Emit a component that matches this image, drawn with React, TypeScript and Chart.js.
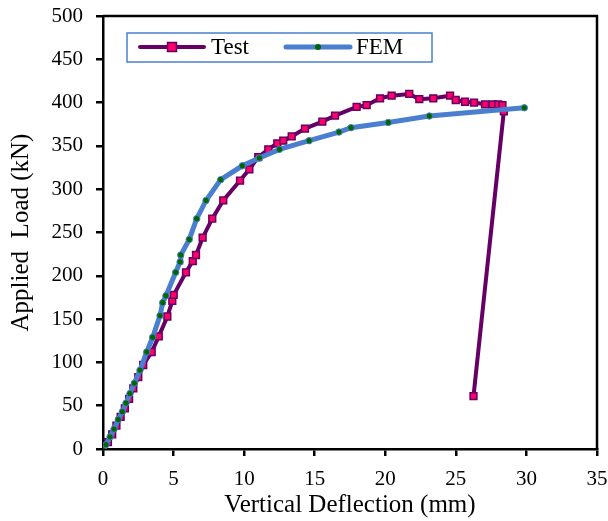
import React, { useEffect, useRef } from "react";
import { Chart, registerables } from "chart.js";

Chart.register(...registerables);

const testX = [0, 0.35, 0.65, 0.95, 1.25, 1.55, 1.85, 2.15, 2.5, 2.85, 3.45, 3.95, 4.56, 4.91, 5.01, 5.88, 6.36, 6.59, 7.06, 7.74, 8.52, 9.71, 10.37, 11.0, 11.71, 12.35, 12.77, 13.37, 14.31, 15.54, 16.44, 17.97, 18.68, 19.63, 20.45, 21.7, 22.41, 23.4, 24.59, 24.99, 25.65, 26.29, 27.07, 27.6, 28.0, 28.3, 28.4, 26.25];
const testY = [0, 8, 17, 27, 37, 47, 58, 70, 83, 97, 112, 130, 153, 171, 178, 204, 217, 224, 244, 266, 287, 310, 323, 337, 346, 353, 356, 361, 370, 378, 385, 395, 397, 405, 408, 410, 404, 405, 408, 403, 401, 400, 398, 398, 398, 397, 390, 61];

const femX = [0, 0.21, 0.5, 0.78, 1.08, 1.37, 1.63, 1.91, 2.22, 2.62, 3.1, 3.52, 4.04, 4.23, 4.46, 5.15, 5.46, 5.51, 6.11, 6.64, 7.3, 8.34, 9.87, 11.07, 12.5, 14.6, 16.72, 17.57, 20.21, 23.12, 29.85];
const femY = [0, 5, 14, 23, 34, 43, 53, 64, 76, 91, 112, 129, 154, 169, 177, 204, 216, 224, 242, 266, 287, 311, 327, 336, 346, 356, 366, 371, 377, 384.5, 394];

const seriesNames = ["Test", "FEM"];
const xTitle = "Vertical Deflection (mm)";
const yTitle = "Applied  Load (kN)";

const TEST_LINE = "#660066";
const TEST_FILL = "#ff0066";
const FEM_LINE = "#4a7fd0";
const FEM_FILL = "#006600";
const FONT = "'Liberation Serif', 'Times New Roman', serif";

const framePlugin = {
  id: "frameAndLegend",
  afterDraw(chart: any) {
    const { ctx, chartArea } = chart;
    ctx.save();
    ctx.strokeStyle = "#000";
    ctx.lineWidth = 2.5;
    ctx.beginPath();
    ctx.moveTo(chartArea.left, chartArea.top);
    ctx.lineTo(chartArea.right, chartArea.top);
    ctx.lineTo(chartArea.right, chartArea.bottom);
    ctx.stroke();

    // legend box
    ctx.strokeStyle = FEM_LINE;
    ctx.lineWidth = 1.5;
    ctx.fillStyle = "#fff";
    ctx.fillRect(127, 33, 305, 29);
    ctx.strokeRect(127, 33, 305, 29);
    const ly = 47;
    // Test
    ctx.strokeStyle = TEST_LINE;
    ctx.lineWidth = 4;
    ctx.lineCap = "round";
    ctx.beginPath();
    ctx.moveTo(140, ly);
    ctx.lineTo(204, ly);
    ctx.stroke();
    ctx.fillStyle = TEST_FILL;
    ctx.lineWidth = 1.5;
    ctx.fillRect(167.5, ly - 4.5, 9, 9);
    ctx.strokeRect(167.5, ly - 4.5, 9, 9);
    // FEM
    ctx.strokeStyle = FEM_LINE;
    ctx.lineWidth = 5;
    ctx.beginPath();
    ctx.moveTo(286, ly);
    ctx.lineTo(350, ly);
    ctx.stroke();
    ctx.fillStyle = FEM_FILL;
    ctx.beginPath();
    ctx.arc(318, ly, 3, 0, Math.PI * 2);
    ctx.fill();
    // text
    ctx.fillStyle = "#000";
    ctx.font = `23px ${FONT}`;
    ctx.textBaseline = "middle";
    ctx.textAlign = "left";
    ctx.fillText(seriesNames[0], 211, ly + 1);
    ctx.fillText(seriesNames[1], 356, ly + 1);
    ctx.restore();
  },
};

export default function App() {
  const ref = useRef<HTMLCanvasElement>(null);
  useEffect(() => {
    if (!ref.current) return;
    const chart = new Chart(ref.current, {
      type: "line",
      data: {
        datasets: [
          {
            label: seriesNames[0],
            data: testX.map((x, i) => ({ x, y: testY[i] })),
            borderColor: TEST_LINE,
            borderWidth: 4,
            pointStyle: "rect",
            pointRadius: 4.8,
            pointBackgroundColor: TEST_FILL,
            pointBorderColor: TEST_LINE,
            pointBorderWidth: 1.5,
            tension: 0,
            order: 2,
          },
          {
            label: seriesNames[1],
            data: femX.map((x, i) => ({ x, y: femY[i] })),
            borderColor: FEM_LINE,
            borderWidth: 5,
            pointStyle: "circle",
            pointRadius: 3.2,
            pointBackgroundColor: FEM_FILL,
            pointBorderColor: FEM_LINE,
            pointBorderWidth: 1,
            tension: 0,
            order: 1,
          },
        ],
      },
      options: {
        animation: false,
        responsive: false,
        maintainAspectRatio: false,
        layout: { padding: { top: 16, right: 11, left: 0, bottom: 0 } },
        plugins: { legend: { display: false }, tooltip: { enabled: false } },
        scales: {
          x: {
            type: "linear",
            min: 0,
            max: 35,
            ticks: { stepSize: 5, color: "#000", font: { family: FONT, size: 21 }, padding: 11 },
            grid: { drawOnChartArea: false, tickLength: 7, color: "#000", lineWidth: 2.5 },
            border: { color: "#000", width: 2.5 },
            title: { display: true, text: xTitle, color: "#000", font: { family: FONT, size: 25 }, padding: { top: 0, bottom: 1 } },
            afterFit: (s: any) => { s.height = 72; s.paddingLeft = 0; s.paddingRight = 0; },
          },
          y: {
            type: "linear",
            min: 0,
            max: 500,
            ticks: { stepSize: 50, color: "#000", font: { family: FONT, size: 21 }, padding: 13 },
            grid: { drawOnChartArea: false, tickLength: 7, color: "#000", lineWidth: 2.5 },
            border: { color: "#000", width: 2.5 },
            title: { display: true, text: yTitle, color: "#000", font: { family: FONT, size: 25 }, padding: { top: 6, bottom: 0 } },
            afterFit: (s: any) => { s.width = 103; s.paddingTop = 0; s.paddingBottom = 0; },
          },
        },
      },
      plugins: [framePlugin],
    });
    return () => chart.destroy();
  }, []);
  return (
    <div style={{ position: "fixed", left: 0, top: 0, width: 608, height: 521, background: "#fff" }}>
      <canvas ref={ref} width={608} height={521} style={{ width: 608, height: 521 }} />
    </div>
  );
}
